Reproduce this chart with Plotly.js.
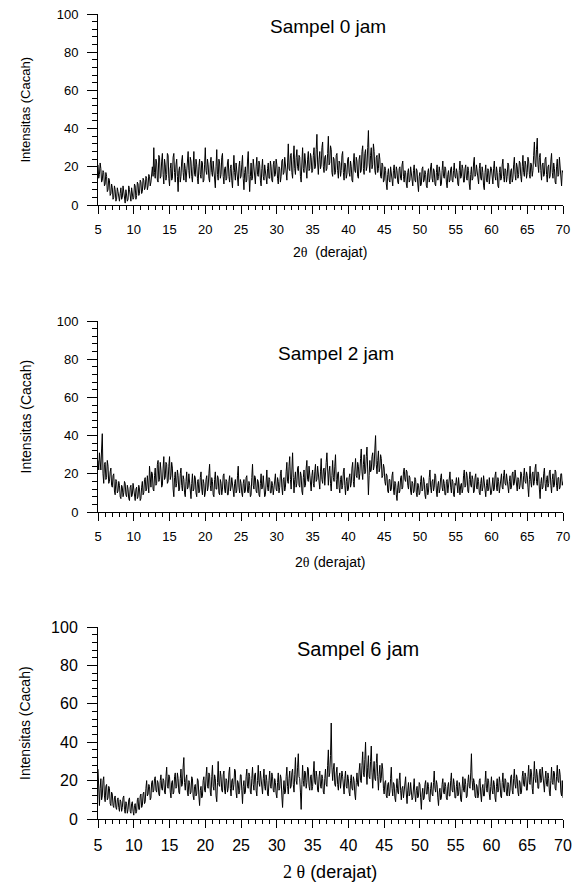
<!DOCTYPE html>
<html>
<head>
<meta charset="utf-8">
<script src="https://cdn.plot.ly/plotly-3.0.1.min.js"></script>
<style>html,body{margin:0;padding:0;background:#fff;}#chart{width:578px;height:885px;}</style>
</head>
<body>
<div id="chart"></div>
<script>
// ---- data ----
// scan start / step in degrees 2-theta
const scanStart = 5;
const scanStep = 0.1;
const xTicks = [5,10,15,20,25,30,35,40,45,50,55,60,65,70];
const yTicks = [0,20,40,60,80,100];
const panelTitles = ["Sampel 0 jam", "Sampel 2 jam", "Sampel 6 jam"];
const yTitle = "Intensitas (Cacah)";

const sampel0 = [
21,14,16,22,19,12,13,18,17,10,11,17,15,7,8,14,13,5,6,11,9,3,4,10,8,2,3,9,7,4,2,6,9,3,4,10,7,2,1,8,6,2,3,10,8,4,2,9,7,3,
4,11,10,3,5,12,11,5,6,13,12,6,7,14,13,8,9,15,14,8,10,16,15,10,12,18,20,15,30,17,14,24,22,13,12,26,25,14,15,23,27,16,11,24,21,13,16,27,26,14,
10,19,22,13,14,25,27,17,12,21,24,15,7,18,20,12,15,23,26,17,13,22,19,12,16,24,28,18,14,25,23,15,12,20,28,16,15,24,21,14,11,20,24,16,14,23,22,12,13,21,
30,18,16,24,21,14,12,22,25,17,15,23,19,11,9,20,29,16,13,24,22,14,16,25,27,15,11,19,20,13,14,22,24,15,12,19,21,13,9,18,26,17,13,22,18,11,10,20,23,14,
15,21,26,14,8,17,20,12,13,23,28,16,7,15,22,13,14,24,19,12,11,20,25,16,15,23,21,13,10,19,24,15,13,21,18,12,11,19,22,14,14,23,20,13,12,21,23,15,16,24,
21,14,11,20,19,12,15,23,24,16,17,25,20,14,13,22,32,19,18,26,27,17,14,24,31,19,16,25,29,20,18,26,25,15,12,22,30,19,17,27,23,16,14,24,28,18,19,27,25,17,
18,26,30,19,20,29,37,22,16,24,28,19,21,30,33,20,17,25,26,18,19,27,36,21,22,31,29,17,15,25,24,16,17,26,27,18,14,23,22,15,18,26,28,17,13,22,21,14,16,24,
25,17,15,23,20,13,12,22,27,18,17,25,23,15,14,24,26,17,18,28,31,19,16,27,29,18,20,30,39,22,17,26,30,19,21,32,28,18,16,25,26,17,19,27,24,15,14,22,21,12,
13,20,18,11,8,16,19,13,12,20,17,11,10,18,21,14,14,20,18,12,11,19,20,14,13,21,23,15,12,18,17,11,9,17,19,12,13,20,16,10,10,18,21,13,12,19,18,11,7,15,
17,10,11,19,20,12,13,18,16,10,9,17,19,12,14,20,22,14,12,19,18,11,10,17,21,13,15,20,17,10,11,18,23,15,14,20,19,12,9,16,18,12,13,19,20,13,12,18,22,15,
14,19,17,11,10,18,23,14,15,21,19,12,12,19,21,14,13,20,18,11,8,16,20,13,14,22,25,15,16,21,18,12,11,19,22,14,13,20,17,10,8,17,21,13,12,19,18,11,14,20,
19,13,11,19,23,15,13,20,17,10,9,17,20,13,14,21,24,15,12,19,18,12,15,22,21,13,11,18,19,12,14,21,25,16,13,22,20,14,16,23,22,15,12,20,26,17,15,23,21,14,
17,25,23,16,14,22,21,15,18,26,33,22,20,29,35,21,17,25,27,18,13,21,22,15,16,24,25,16,12,20,21,14,15,23,27,17,14,22,19,12,11,20,24,15,16,25,21,13,10,18,
17
];

const sampel2 = [
27,22,31,24,22,33,41,20,15,25,26,17,18,27,24,15,16,21,23,14,13,19,20,11,9,17,16,10,11,16,14,8,7,14,13,8,10,16,15,9,8,14,12,7,6,13,14,8,9,15,
11,7,6,12,13,7,8,14,12,6,7,13,16,9,10,17,18,11,12,19,15,10,24,14,13,21,20,12,11,19,23,14,15,25,27,16,17,26,22,13,14,23,29,17,18,26,25,15,16,24,
29,17,19,26,23,12,8,18,21,13,15,22,19,11,12,20,23,14,11,19,17,10,8,16,21,12,13,20,16,9,7,15,20,11,12,19,18,10,8,16,17,10,11,18,21,12,9,17,15,8,
10,17,19,11,13,20,25,14,11,18,16,9,8,17,21,12,12,19,18,10,9,17,15,9,12,19,20,12,10,17,16,9,9,16,19,11,13,18,14,9,8,15,17,10,11,19,24,13,10,17,
15,10,8,15,17,10,11,18,19,11,10,16,14,8,9,18,25,14,12,19,18,11,10,17,16,9,8,15,20,12,13,19,15,8,9,16,22,13,11,18,17,10,10,16,14,9,12,18,20,12,
11,18,16,10,13,20,22,13,9,17,18,11,13,21,26,16,15,24,29,17,12,22,31,18,10,17,21,13,15,23,24,14,13,21,19,11,9,18,22,13,14,23,27,17,16,24,20,12,11,19,
22,15,13,21,25,16,17,24,20,13,12,21,28,17,15,22,23,14,18,26,31,19,14,21,24,15,11,19,27,18,16,24,30,17,12,20,21,13,10,17,19,12,14,21,23,14,9,16,18,11,
12,18,20,13,15,23,26,16,13,22,28,19,18,26,24,17,20,28,33,21,17,25,30,20,21,29,34,22,9,19,27,21,22,29,31,22,24,33,40,25,20,27,32,21,23,30,28,18,19,25,
23,16,14,20,19,11,10,17,17,11,12,19,21,12,9,16,15,9,6,13,16,10,11,18,19,12,13,21,23,17,16,22,21,14,12,19,18,11,9,16,15,10,11,18,17,10,8,15,14,9,
10,16,19,11,12,18,16,9,7,14,15,9,11,18,22,13,10,16,17,11,13,20,19,11,8,14,16,10,12,18,20,13,11,17,15,9,9,16,17,10,13,19,21,13,10,17,16,9,8,15,
14,18,11,10,18,15,9,14,15,10,12,19,22,13,14,21,19,11,10,17,21,14,13,19,17,10,11,18,20,13,12,18,16,10,9,15,18,11,13,19,15,10,8,14,17,11,12,18,14,9,
10,16,18,11,12,19,21,13,11,18,16,10,13,19,20,13,12,19,22,15,14,20,17,11,10,16,19,12,13,20,21,14,15,22,18,12,11,18,17,12,14,21,20,13,12,19,23,16,15,21,
19,13,8,17,24,16,13,20,21,14,16,23,25,16,14,21,20,12,7,15,18,12,13,20,23,15,11,17,19,13,15,21,22,14,10,17,20,13,14,22,21,14,11,18,18,12,13,20,20,14,
16
];

const sampel6 = [
26,14,7,16,21,10,12,20,22,12,9,17,18,10,11,17,16,8,7,14,13,7,6,11,12,6,5,10,11,6,4,10,9,4,6,11,12,5,3,9,8,3,5,10,11,4,3,8,9,4,
2,7,8,3,4,10,11,5,5,12,13,6,7,13,14,8,9,16,20,12,13,18,17,10,11,19,20,14,15,21,22,15,14,20,19,13,12,20,23,16,15,21,20,14,13,22,27,17,16,23,
22,14,11,19,20,13,14,22,24,16,17,24,21,14,13,21,26,17,18,27,32,19,15,21,23,14,12,20,19,13,14,22,21,12,10,17,18,12,13,21,20,12,7,15,17,11,12,20,22,15,
14,22,27,17,16,24,23,14,12,22,28,17,15,23,21,12,9,19,30,18,17,25,22,15,14,23,25,15,13,21,20,14,16,24,27,16,12,20,21,15,18,26,25,14,11,20,19,13,15,23,
23,15,8,17,20,13,14,22,26,17,16,24,22,14,13,21,27,18,15,23,24,15,12,20,28,19,17,25,21,14,13,21,26,17,15,23,20,13,12,20,25,17,16,24,22,15,14,21,19,13,
11,19,24,15,16,23,21,12,6,15,20,13,14,22,27,17,13,21,25,16,17,24,26,18,14,23,32,20,18,27,34,22,21,14,5,18,28,20,17,25,24,16,19,27,26,17,15,22,23,15,
17,24,30,19,18,25,22,15,14,22,25,17,16,23,21,14,13,21,26,18,17,28,36,22,24,33,50,27,20,26,29,18,17,24,27,18,15,22,24,16,19,25,22,14,13,21,25,17,16,23,
21,14,12,20,23,16,15,22,20,13,10,19,24,18,17,25,29,20,19,28,35,24,22,31,40,25,18,27,33,22,21,30,38,24,16,25,30,21,20,29,34,22,15,23,28,19,21,29,26,16,
13,19,20,12,11,18,19,12,14,21,27,16,12,19,18,11,9,16,21,14,13,20,24,15,10,16,17,11,14,20,22,13,8,15,19,12,13,19,16,10,11,18,21,13,9,15,17,11,12,19,
18,11,5,13,16,10,11,18,20,13,13,19,17,10,9,16,19,13,12,19,25,16,14,20,18,11,7,14,16,10,11,18,21,14,13,19,17,11,10,17,19,12,12,20,24,15,14,21,18,11,
11,17,20,12,13,19,17,10,9,16,22,15,14,21,18,11,12,19,23,17,16,24,34,20,15,21,19,12,11,18,17,11,13,20,21,13,9,16,18,12,12,19,25,16,14,21,20,13,10,17,
22,15,13,20,18,11,9,17,21,14,15,22,19,12,11,19,24,16,14,21,20,13,12,19,18,12,15,22,23,15,13,21,26,18,16,23,21,14,12,20,19,13,14,22,25,18,17,24,22,15,
15,22,28,19,18,26,24,16,13,22,30,21,19,26,23,16,16,24,26,19,20,27,22,15,14,21,25,18,17,24,21,14,12,20,27,19,18,25,24,16,15,22,28,20,19,26,23,14,12,20,
11
];

// ---- layout (pixels) ----
const W = 578, H = 885;
const plotLeft = 98, plotRight = 563;
const panels = [
  {top: 14,  bottom: 205, tick: 13, titleSize: 19, titleX: 328, titleY: 26, xtY: 252, xtSize: 14, ytSize: 13,
   xTitle: '2<span style="font-family:Liberation Serif">θ</span>  (derajat)'},
  {top: 321, bottom: 512, tick: 13, titleSize: 19, titleX: 336, titleY: 353, xtY: 562, xtSize: 14, ytSize: 14,
   xTitle: '2<span style="font-family:Liberation Serif">θ</span> (derajat)'},
  {top: 627, bottom: 819, tick: 16, titleSize: 20, titleX: 358, titleY: 649, xtY: 872, xtSize: 18, ytSize: 14,
   xTitle: '<span style="font-family:Liberation Serif">2 θ</span> (derajat)'}
];
const series = [sampel0, sampel2, sampel6];
const FONT = 'Liberation Sans, Arial, sans-serif';

const traces = [];
const layout = {
  width: W, height: H,
  margin: {l: 0, r: 0, t: 0, b: 0},
  paper_bgcolor: '#fff', plot_bgcolor: '#fff',
  showlegend: false,
  font: {family: FONT, color: '#000'},
  annotations: []
};

panels.forEach((p, i) => {
  const n = i === 0 ? '' : String(i + 1);
  const vals = series[i];
  const xs = vals.map((_, k) => +(scanStart + k * scanStep).toFixed(1));
  traces.push({
    type: 'scatter', mode: 'lines', x: xs, y: vals,
    xaxis: 'x' + n, yaxis: 'y' + n,
    line: {color: '#000', width: 1}, hoverinfo: 'skip'
  });
  const common = {
    showline: true, linecolor: '#000', linewidth: 1,
    ticks: 'outside', tickcolor: '#000', tickwidth: 1,
    showgrid: false, zeroline: false, fixedrange: true,
    tickfont: {family: FONT, size: p.tick, color: '#000'}
  };
  layout['xaxis' + n] = Object.assign({}, common, {
    domain: [plotLeft / W, plotRight / W], range: [5, 70],
    anchor: 'y' + n, tickmode: 'array', tickvals: xTicks,
    ticklen: 8, ticklabelstandoff: 4,
    minor: {dtick: 1, tick0: 5, ticklen: 4, ticks: 'outside', tickcolor: '#000', tickwidth: 1, showgrid: false}
  });
  layout['yaxis' + n] = Object.assign({}, common, {
    domain: [1 - p.bottom / H, 1 - p.top / H], range: [0, 100],
    anchor: 'x' + n, tickmode: 'array', tickvals: yTicks,
    ticklen: 10, ticklabelstandoff: 6,
    minor: {dtick: 4, tick0: 0, ticklen: 5, ticks: 'outside', tickcolor: '#000', tickwidth: 1, showgrid: false}
  });
  layout.annotations.push({
    xref: 'paper', yref: 'paper', x: p.titleX / W, y: 1 - p.titleY / H,
    xanchor: 'center', yanchor: 'middle', showarrow: false,
    text: panelTitles[i], font: {family: FONT, size: p.titleSize, color: '#000'}
  });
  layout.annotations.push({
    xref: 'paper', yref: 'paper', x: 330 / W, y: 1 - p.xtY / H,
    xanchor: 'center', yanchor: 'middle', showarrow: false,
    text: p.xTitle, font: {family: FONT, size: p.xtSize, color: '#000'}
  });
  layout.annotations.push({
    xref: 'paper', yref: 'paper', x: 25 / W, y: 1 - (p.top + p.bottom) / 2 / H,
    xanchor: 'center', yanchor: 'middle', showarrow: false, textangle: -90,
    text: yTitle, font: {family: FONT, size: p.ytSize, color: '#000'}
  });
});

Plotly.newPlot('chart', traces, layout, {displayModeBar: false, staticPlot: true});
</script>
</body>
</html>
